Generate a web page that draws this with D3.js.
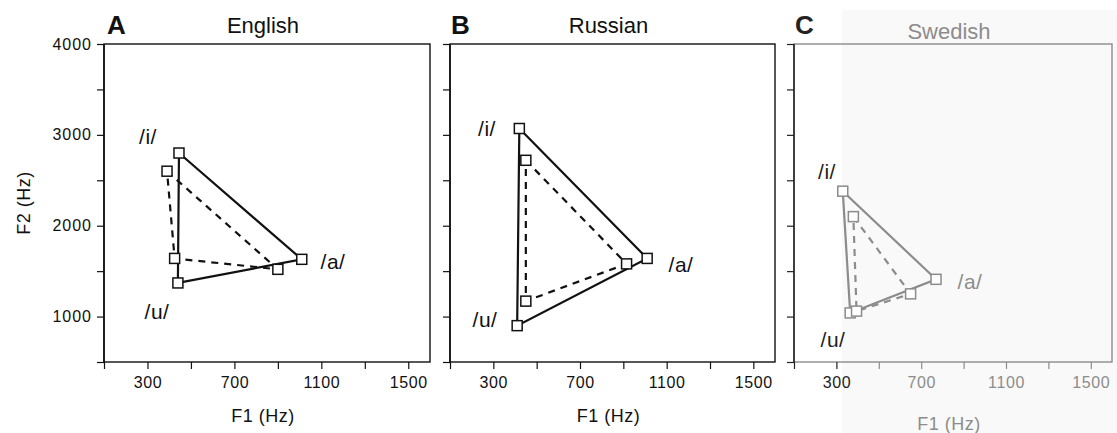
<!DOCTYPE html>
<html>
<head>
<meta charset="utf-8">
<script src="https://cdn.jsdelivr.net/npm/d3@7"></script>
<style>
  body { margin: 0; background: #fff; }
  svg { font-family: "Liberation Sans", Arial, sans-serif; }
</style>
</head>
<body>
<svg id="chart" width="1117" height="433"></svg>
<script>
// vowel order used in every series: /i/, /a/, /u/
const vowels = ['/i/', '/a/', '/u/'];
const languages = ['English', 'Russian', 'Swedish'];
const panelLetters = ['A', 'B', 'C'];

// F1 / F2 (Hz), solid triangle
const englishSolidF1 = [445, 1010, 440];
const englishSolidF2 = [2800, 1630, 1370];
const russianSolidF1 = [420, 1010, 410];
const russianSolidF2 = [3070, 1640, 900];
const swedishSolidF1 = [330, 770, 365];
const swedishSolidF2 = [2380, 1410, 1040];

// F1 / F2 (Hz), dashed triangle
const englishDashF1 = [390, 900, 425];
const englishDashF2 = [2600, 1520, 1640];
const russianDashF1 = [450, 915, 450];
const russianDashF2 = [2720, 1580, 1170];
const swedishDashF1 = [380, 650, 395];
const swedishDashF2 = [2100, 1250, 1060];

const xTicks = [100, 300, 500, 700, 900, 1100, 1300, 1500];
const xTickLabels = [300, 700, 1100, 1500];
const yTicks = [500, 1000, 1500, 2000, 2500, 3000, 3500, 4000];
const yTickLabels = [1000, 2000, 3000, 4000];

const series = [
  { solid: [englishSolidF1, englishSolidF2], dash: [englishDashF1, englishDashF2] },
  { solid: [russianSolidF1, russianSolidF2], dash: [russianDashF1, russianDashF2] },
  { solid: [swedishSolidF1, swedishSolidF2], dash: [swedishDashF1, swedishDashF2] }
];

// layout for each panel
const layout = [
  { x0: 104, x1: 430, ink: '#111', faint: '#111', yLabels: true,
    lab: { i: [148, 137], a: [333, 262], u: [157, 312] } },
  { x0: 450, x1: 775, ink: '#111', faint: '#111', yLabels: false,
    lab: { i: [487, 129], a: [681, 265], u: [485, 320] } },
  { x0: 794, x1: 1112, ink: '#222', faint: '#8c8c8c', yLabels: false,
    lab: { i: [827, 172], a: [970, 282], u: [833, 340] } }
];

const font = '"Liberation Sans", Arial, sans-serif';
const svg = d3.select('#chart');

// faded scan area of panel C
svg.append('rect')
  .attr('x', 842).attr('y', 10)
  .attr('width', 1117 - 842).attr('height', 423)
  .attr('fill', '#f9f9f9');

layout.forEach((p, k) => {
  const g = svg.append('g');
  const x = d3.scaleLinear().domain([100, 1600]).range([p.x0, p.x1]);
  const y = d3.scaleLinear().domain([500, 4000]).range([362, 44]);

  // frame
  g.append('rect')
    .attr('x', p.x0).attr('y', y(4000))
    .attr('width', p.x1 - p.x0).attr('height', y(500) - y(4000))
    .attr('fill', 'none')
    .attr('stroke', p.faint)
    .attr('stroke-width', 1.4);
  g.append('line')
    .attr('x1', p.x0).attr('x2', p.x0)
    .attr('y1', y(4000)).attr('y2', y(500))
    .attr('stroke', p.ink).attr('stroke-width', 1.6);

  // y axis
  const ya = g.append('g')
    .attr('transform', `translate(${p.x0},0)`)
    .call(d3.axisLeft(y).tickValues(yTicks).tickSize(7).tickPadding(5)
      .tickFormat(d => p.yLabels && yTickLabels.includes(d) ? d : ''));
  ya.select('.domain').remove();
  ya.selectAll('line').attr('stroke', p.ink).attr('stroke-width', 1.2);
  ya.selectAll('text').attr('font-size', 16).attr('fill', p.ink)
    .attr('letter-spacing', 1).attr('font-family', font);

  // x axis
  const xa = g.append('g')
    .attr('transform', `translate(0,${y(500)})`)
    .call(d3.axisBottom(x).tickValues(xTicks).tickSize(7).tickPadding(8)
      .tickFormat(d => xTickLabels.includes(d) ? d : ''));
  xa.select('.domain').remove();
  xa.selectAll('line').attr('stroke', d => d <= 300 ? p.ink : p.faint).attr('stroke-width', 1.2);
  xa.selectAll('text').attr('font-size', 16)
    .attr('letter-spacing', 0.6)
    .attr('fill', d => d <= 300 ? p.ink : p.faint)
    .attr('font-family', font);

  // titles
  g.append('text')
    .attr('x', p.x0 + (k === 0 ? 3 : 1)).attr('y', 34)
    .attr('font-size', 26).attr('font-weight', 'bold')
    .attr('fill', p.ink)
    .text(panelLetters[k]);
  g.append('text')
    .attr('x', (p.x0 + p.x1) / 2 - 4).attr('y', k === 2 ? 39 : 33)
    .attr('text-anchor', 'middle')
    .attr('font-size', 22).attr('fill', p.faint)
    .text(languages[k]);

  // axis titles
  g.append('text')
    .attr('x', (p.x0 + p.x1) / 2 - 4).attr('y', k === 2 ? 430 : 422)
    .attr('text-anchor', 'middle')
    .attr('font-size', 18).attr('letter-spacing', 0.5).attr('fill', p.faint)
    .text('F1 (Hz)');
  if (k === 0) {
    g.append('text')
      .attr('transform', `translate(30,${y(2250)}) rotate(-90)`)
      .attr('text-anchor', 'middle')
      .attr('font-size', 18).attr('letter-spacing', 0.5).attr('fill', p.ink)
      .text('F2 (Hz)');
  }

  // triangles
  const s = series[k];
  const pts = arr => vowels.map((v, i) => [x(arr[0][i]), y(arr[1][i])]);
  const solidPts = pts(s.solid);
  const dashPts = pts(s.dash);
  const line = d3.line().curve(d3.curveLinearClosed);

  g.append('path')
    .attr('d', line(dashPts))
    .attr('fill', 'none')
    .attr('stroke', p.faint)
    .attr('stroke-width', 2.2)
    .attr('stroke-dasharray', '7,6');
  g.append('path')
    .attr('d', line(solidPts))
    .attr('fill', 'none')
    .attr('stroke', p.faint)
    .attr('stroke-width', 2.2);

  g.selectAll('rect.mark')
    .data(solidPts.concat(dashPts))
    .enter()
    .append('rect')
    .attr('class', 'mark')
    .attr('x', d => d[0] - 5)
    .attr('y', d => d[1] - 5)
    .attr('width', 10).attr('height', 10)
    .attr('fill', '#fff')
    .attr('stroke', p.faint)
    .attr('stroke-width', 1.5);

  // vowel labels
  vowels.forEach(v => {
    const key = v.replace(/\//g, '');
    g.append('text')
      .attr('x', p.lab[key][0]).attr('y', p.lab[key][1])
      .attr('text-anchor', 'middle')
      .attr('dy', '0.35em')
      .attr('font-size', 21)
      .attr('letter-spacing', 0.5)
      .attr('fill', key === 'a' ? p.faint : p.ink)
      .text(v);
  });
});
</script>
</body>
</html>
